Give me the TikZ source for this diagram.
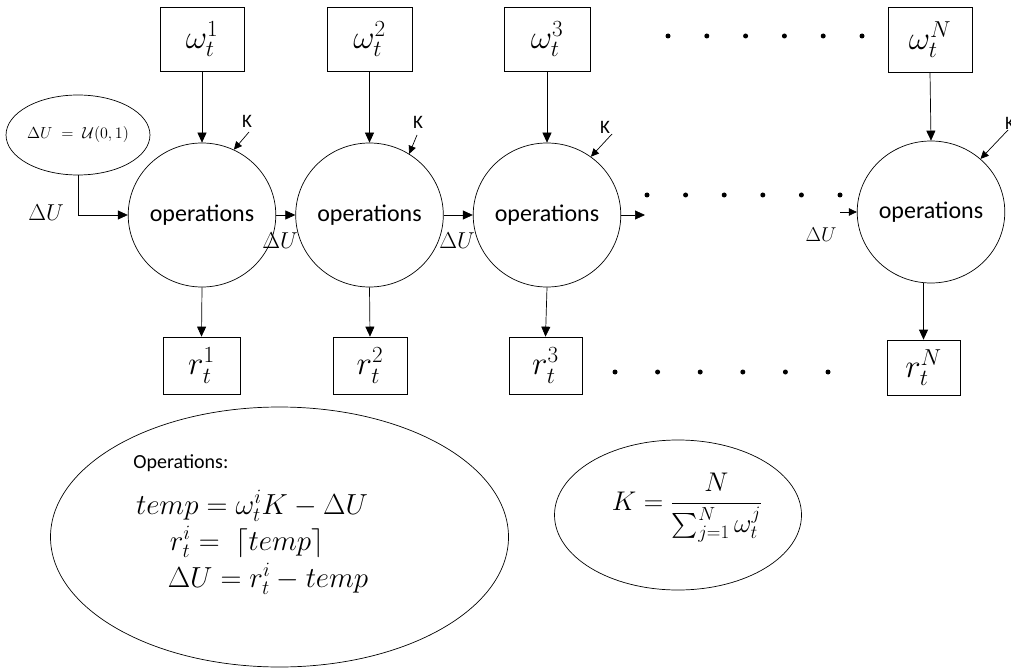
\RequirePackage{fix-cm}
\documentclass[tikz,border=0pt]{standalone}
\usepackage{amsmath}
\usepackage{fontspec}
\setmainfont{Carlito}
\usetikzlibrary{arrows.meta,shapes.geometric,calc}
\begin{document}
\begin{tikzpicture}[x=1pt,y=-1pt,
  line width=0.7pt,
  wbox/.style={draw,rectangle,inner sep=0pt,font=\fontsize{33}{36}\selectfont},
  opnode/.style={draw,ellipse,inner sep=0pt,font=\fontsize{24}{28}\selectfont},
  arr/.style={-{Triangle[length=10pt,width=9pt]}},
  sarr/.style={-{Triangle[length=8pt,width=7.5pt]}},
  klab/.style={inner sep=1pt,font=\fontsize{19}{22}\selectfont},
  dlab/.style={inner sep=0pt,font=\fontsize{23}{26}\selectfont},
  dotc/.style={fill=black,draw=none,circle,minimum size=5pt,inner sep=0pt}]
\useasboundingbox (0,0) rectangle (1011,668);
% top weight boxes
\node[wbox,minimum width=84pt,minimum height=64pt] (w1) at (202,39) {$\omega_t^1$};
\node[wbox,minimum width=85pt,minimum height=64pt] (w2) at (369.5,39) {$\omega_t^2$};
\node[wbox,minimum width=86pt,minimum height=64pt] (w3) at (547,39) {$\omega_t^3$};
\node[wbox,minimum width=84pt,minimum height=65pt] (wN) at (930,39.5) {$\omega_t^N$};
% operation ellipses
\node[opnode,minimum width=126pt,minimum height=144pt] (e1) at (202,215) {operations};
\node[opnode,minimum width=125pt,minimum height=144pt] (e2) at (369.5,215) {operations};
\node[opnode,minimum width=127pt,minimum height=144pt] (e3) at (547,215) {operations};
\node[opnode,minimum width=128pt,minimum height=142pt] (eN) at (931,212) {operations};
% result boxes
\node[wbox,minimum width=77pt,minimum height=57pt] (r1) at (201.5,365.5) {$r_t^1$};
\node[wbox,minimum width=74pt,minimum height=57pt] (r2) at (370,365.5) {$r_t^2$};
\node[wbox,minimum width=73pt,minimum height=57pt] (r3) at (545.5,365.5) {$r_t^3$};
\node[wbox,minimum width=73pt,minimum height=55pt] (rN) at (923.5,367.5) {$r_t^N$};
% initial Delta U ellipse
\node[draw,ellipse,minimum width=136pt,minimum height=80pt,inner sep=0pt,font=\fontsize{16}{18}\selectfont] (u) at (78,135) {$\Delta U\;=\;\mathcal{U}(0,1)$};
% vertical connectors
\draw[arr] (w1.south) -- (e1.north);
\draw[arr] (w2.south) -- (e2.north);
\draw[arr] (w3.south) -- (e3.north);
\draw[arr] (wN.south) -- (eN.north);
\draw[arr] (e1.south) -- (r1.north);
\draw[arr] (e2.south) -- (r2.north);
\draw[arr] (e3.south) -- (r3.north);
\draw[arr] (rN.north |- eN.south) -- (rN.north);
% horizontal connectors
\draw[arr] (u.south) |- (e1.west);
\draw[arr] (e1.east) -- (e2.west);
\draw[arr] (e2.east) -- (e3.west);
\coordinate (o3) at (645,215);
\draw[arr] (e3.east) -- (o3);
\coordinate (iN) at (840,212);
\draw[sarr] (iN) -- (eN.west);
% Delta U labels
\node[dlab] (du0) at (46,213) {$\Delta U$};
\node[dlab] (du1) at (280,241) {$\Delta U$};
\node[dlab] (du2) at (457,241) {$\Delta U$};
\node[dlab,font=\fontsize{20}{22}\selectfont] (duN) at (821,235) {$\Delta U$};
% K labels and arrows
\node[klab] (k1) at (247,121) {K};
\coordinate (k1s) at (249,132);
\draw[sarr] (k1s) -- (e1.64);
\node[klab] (k2) at (418,122) {K};
\coordinate (k2s) at (417,135);
\draw[sarr] (k2s) -- (e2.57);
\node[klab] (k3) at (605,127) {K};
\coordinate (k3s) at (612,134);
\draw[sarr] (k3s) -- (e3.53);
\node[klab] (kN) at (1010,123) {K};
\coordinate (kNs) at (1008,130);
\draw[sarr] (kNs) -- (eN.47);
% dots
\foreach \i in {0,...,5} {
  \node[dotc] (td\i) at ({668+\i*38.8},36) {};
  \node[dotc] (md\i) at ({647+\i*38.6},195) {};
  \node[dotc] (bd\i) at ({615+\i*42.6},372) {};
}
% operations legend ellipse
\node[draw,ellipse,minimum width=458pt,minimum height=260pt] (big) at (279.5,537) {};
\node[anchor=west,inner sep=0pt,font=\fontsize{20}{24}\selectfont] (opl) at (133,463) {Operations:};
\begin{scope}[every node/.style={inner sep=0pt,font=\fontsize{29}{32}\selectfont}]
\node (l1) at (252,506) {$temp = \omega_t^i K - \Delta U$};
\node (l2) at (247,542) {$r_t^i =\; \lceil temp\rceil$};
\node (l3) at (268,579) {$\Delta U = r_t^i - temp$};
\end{scope}
% K formula ellipse
\node[draw,ellipse,minimum width=247pt,minimum height=150pt] (kel) at (678,515) {};
\node[inner sep=0pt,font=\fontsize{27}{31}\selectfont] (kf) at (687,508) {$K=\dfrac{N}{\sum_{j=1}^{N}\omega_t^j}$};
\end{tikzpicture}
\end{document}
